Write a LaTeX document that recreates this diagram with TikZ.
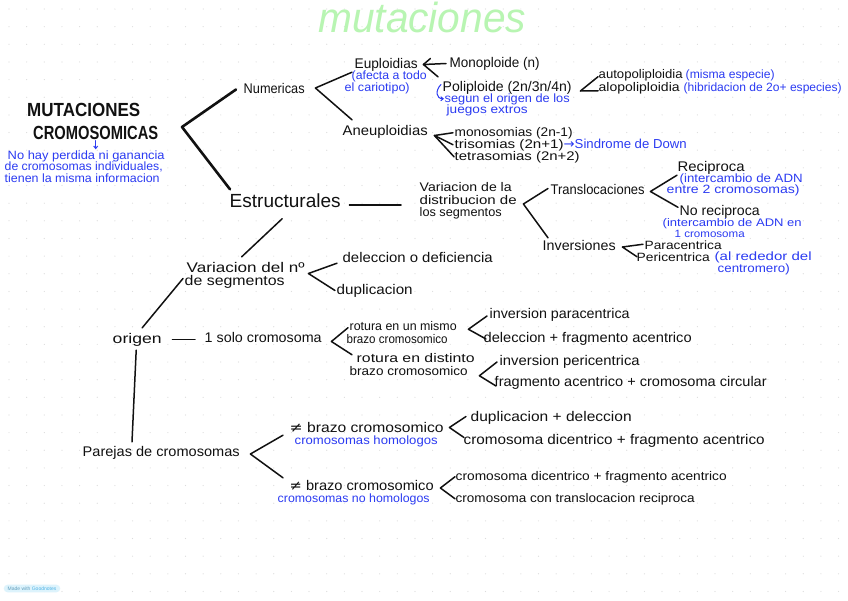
\documentclass[tikz,border=0pt]{standalone}
\usepackage{fontspec}
\setmainfont{Liberation Sans}
\newfontfamily\sym{DejaVu Sans}
\usepackage{graphicx}
\usetikzlibrary{calc,arrows.meta}
\definecolor{ink}{HTML}{111111}
\definecolor{pen}{HTML}{2B3BF2}
\definecolor{mint}{HTML}{B8F5B2}
\definecolor{dotc}{HTML}{DCDCDC}
\definecolor{badge}{HTML}{DDF3FC}
\definecolor{badgetxt}{HTML}{4FB3E6}
\newsavebox\fwbox
\newcommand\fw[2]{\sbox\fwbox{#2}\pgfmathsetmacro\fwr{#1/\wd\fwbox}\scalebox{\fwr}[1]{\usebox\fwbox}}
\begin{document}
\begin{tikzpicture}[x=1pt,y=-1pt,
 t/.style={anchor=base west,inner sep=0.5pt,font=\fontsize{14}{14}\selectfont,text=ink,text height=8pt,text depth=1pt},
 ts/.style={t,font=\fontsize{12.5}{12.5}\selectfont,text height=7pt,text depth=0.5pt},
 b/.style={anchor=base west,inner sep=0.5pt,font=\fontsize{12}{12}\selectfont,text=pen,text height=7pt,text depth=0.5pt},
 bigt/.style={t,font=\fontsize{19}{19}\selectfont,text height=13pt,text depth=4pt},
 ttl/.style={anchor=base west,inner sep=1pt,font=\fontsize{19}{19}\selectfont\bfseries,text=ink,text height=12.5pt,text depth=0.5pt},
 ln/.style={draw=ink,line width=1.5pt,line cap=round,line join=round},
 bln/.style={draw=pen,line width=1pt,line cap=round,line join=round,-{Straight Barb[length=2.5pt,width=4pt]}},
]
\useasboundingbox (0,0) rectangle (848,600);
\fill[white] (0,0) rectangle (848,600);
\foreach \i in {0,...,47}{\foreach \j in {0,...,33}{\fill[dotc] (9+\i*17.65,9+\j*17.65) circle[radius=0.6pt];}}

% title
\node[anchor=base west,inner sep=0pt,text=mint,font=\fontsize{42}{42}\selectfont\itshape] (mut) at (318,32) {\fw{208}{mutaciones}};

% main heading
\node[ttl] (mt1) at (26,116) {\fw{113}{MUTACIONES}};
\node[ttl] (mt2) at (32,139) {\fw{125}{CROMOSOMICAS}};
\node[b] (nh1) at (7,159) {\fw{157}{No hay perdida ni ganancia}};
\node[b] (nh2) at (4,170.5) {\fw{158}{de cromosomas individuales,}};
\node[b] (nh3) at (4,182) {\fw{155}{tienen la misma informacion}};
\draw[bln] (mt2.south) -- ($(mt2.south |- nh1.north)+(0,-2)$);

% numericas
\node[t] (num) at (243,93) {\fw{61}{Numericas}};
\node[t] (eup) at (354,68) {\fw{63}{Euploidias}};
\node[b] (afe1) at (351,79) {\fw{75}{(afecta a todo}};
\node[b] (afe2) at (344,91) {\fw{65}{el cariotipo)}};
\node[t] (aneu) at (342,135) {\fw{85}{Aneuploidias}};
\node[t] (mono) at (449,67) {\fw{90}{Monoploide (n)}};
\node[t] (poli) at (442,91) {\fw{129}{Poliploide (2n/3n/4n)}};
\node[b] (seg1) at (444,102) {\fw{125}{segun el origen de los}};
\node[b] (seg2) at (446,113) {\fw{81}{juegos extros}};
\node[ts] (auto) at (598,78) {\fw{84}{autopoliploidia}};
\node[b] (misma) at (685,78) {\fw{89}{(misma especie)}};
\node[ts] (alo) at (598,91) {\fw{81}{alopoliploidia}};
\node[b] (hibr) at (683,91) {\fw{158}{(hibridacion de 2o+ especies)}};
\node[ts] (monos) at (454,136) {\fw{118}{monosomias (2n-1)}};
\node[ts] (tris) at (454,148) {\fw{109}{trisomias (2n+1)}};
\node[b,font=\fontsize{13}{13}\selectfont] (down) at (563,148) {\fw{123}{{\sym →}Sindrome de Down}};
\node[ts] (tetra) at (454,160) {\fw{125}{tetrasomias (2n+2)}};

% estructurales
\node[bigt] (estr) at (229,207) {\fw{111}{Estructurales}};
\node[t,font=\fontsize{12.5}{12.5}\selectfont] (var1) at (419,191.5) {\fw{92}{Variacion de la}};
\node[t,font=\fontsize{12.5}{12.5}\selectfont] (var2) at (419,204) {\fw{97}{distribucion de}};
\node[t,font=\fontsize{12.5}{12.5}\selectfont] (var3) at (419,216.5) {\fw{82}{los segmentos}};
\node[t] (trans) at (550,194) {\fw{94}{Translocaciones}};
\node[t] (recip) at (677,171) {\fw{67}{Reciproca}};
\node[b] (int1a) at (679,182) {\fw{123}{(intercambio de ADN}};
\node[b] (int1b) at (666,193) {\fw{133}{entre 2 cromosomas)}};
\node[t] (norec) at (679,215.5) {\fw{80}{No reciproca}};
\node[b,font=\fontsize{11}{11}\selectfont] (int2a) at (662,226.5) {\fw{139}{(intercambio de ADN en}};
\node[b,font=\fontsize{10.5}{10.5}\selectfont] (int2b) at (674,237) {\fw{70}{1 cromosoma}};
\node[t] (inv) at (542,250) {\fw{73}{Inversiones}};
\node[ts,font=\fontsize{12}{12}\selectfont] (para) at (644,249) {\fw{77}{Paracentrica}};
\node[ts,font=\fontsize{12}{12}\selectfont] (peri) at (636,261.5) {\fw{73}{Pericentrica}};
\node[b] (alr1) at (714,260) {\fw{97}{(al rededor del}};
\node[b] (alr2) at (717,272.5) {\fw{72}{centromero)}};
\node[t] (vn1) at (186,272) {\fw{118}{Variacion del nº}};
\node[t] (vn2) at (184,285) {\fw{100}{de segmentos}};
\node[t] (delec) at (342,262) {\fw{150}{deleccion o deficiencia}};
\node[t] (dup) at (336,294) {\fw{76}{duplicacion}};

% origen
\node[t] (orig) at (112,343) {\fw{49}{origen}};
\node[t] (solo) at (204,342) {\fw{117}{1 solo cromosoma}};
\node[ts] (r1a) at (349,330) {\fw{107}{rotura en un mismo}};
\node[ts] (r1b) at (346,343) {\fw{101}{brazo cromosomico}};
\node[ts] (r2a) at (356,362) {\fw{118}{rotura en distinto}};
\node[ts] (r2b) at (349,375) {\fw{118}{brazo cromosomico}};
\node[t] (ipara) at (489,318) {\fw{140}{inversion paracentrica}};
\node[t] (dfrag) at (483,342) {\fw{208}{deleccion + fragmento acentrico}};
\node[t] (iperi) at (499,365) {\fw{140}{inversion pericentrica}};
\node[t] (fcirc) at (494,386) {\fw{272}{fragmento acentrico + cromosoma circular}};

% parejas
\node[t] (par) at (82,456) {\fw{157}{Parejas de cromosomas}};
\node[t] (ne1) at (289,432) {\fw{154}{{\sym ≠} brazo cromosomico}};
\node[b] (homo) at (294,444) {\fw{143}{cromosomas homologos}};
\node[t] (ne2) at (289,490) {\fw{144}{{\sym ≠} brazo cromosomico}};
\node[b] (nhomo) at (277,502) {\fw{152}{cromosomas no homologos}};
\node[t] (dd) at (470,421) {\fw{161}{duplicacion + deleccion}};
\node[t] (dc1) at (463,444) {\fw{301}{cromosoma dicentrico + fragmento acentrico}};
\node[ts] (dc2) at (455,480) {\fw{271}{cromosoma dicentrico + fragmento acentrico}};
\node[ts] (ctr) at (455,502) {\fw{239}{cromosoma con translocacion reciproca}};

% badge
\node[fill=badge,rounded corners=4pt,inner xsep=4pt,inner ysep=2pt,font=\fontsize{5}{5}\selectfont,text=badgetxt] (gn) at (32,588.5) {{\color{badgetxt!60!gray}Made with} Goodnotes};

% connectors
\coordinate (vBig) at (182,127);
\draw[ln,line width=2.6pt] ($(num.west)+(-7,0)$) -- (vBig) -- ($(estr.north west)+(1,-4)$);
\draw[ln] ($(eup.south west)+(-2,2.5)$) -- ($(num.east)+(10,-1.5)$) -- ($(aneu.north west)+(10,-6.5)$);
\draw[ln] ($(mono.west)+(-3,0)$) -- ($(eup.east)+(5,0)$) coordinate (tipE) -- ($(poli.north west)+(-4,-5.5)$);
\draw[ln] (tipE) -- +(7,-6);
\draw[ln] ($(auto.west)+(0,2)$) -- ($(poli.east)+(8,3.5)$) -- ($(alo.west)+(0,3)$);
\draw[bln] ($(poli.west)+(-1,-3)$) .. controls ($(poli.west)+(-7,3)$) and ($(seg1.west)+(-8,0)$) .. (seg1.west);
\coordinate (vAn) at ($(aneu.east)+(6,4)$);
\draw[ln] ($(monos.west)+(-1,0)$) -- (vAn) -- (tetra.west);
\draw[ln] ($(tris.west)+(-1,0)$) -- (vAn);
\draw[ln] ($(estr.east)+(8,2.5)$) -- ($(var2.west)+(-18,4.5)$);
\draw[ln] ($(trans.west)+(-2,-2)$) -- ($(var2.east)+(6,3.5)$) -- ($(inv.north west)+(6,-3.5)$);
\draw[ln] ($(recip.south west)+(0,2.5)$) -- ($(trans.east)+(5,1)$) -- ($(norec.north west)+(-1,0.5)$);
\draw[ln] ($(para.west)+(-1,-1.5)$) -- ($(inv.east)+(6,0.5)$) -- ($(peri.west)+(1,-1.5)$);
\draw[ln] ($(estr.south)+(-3,7)$) -- ($(vn1.north)+(-4,-6.5)$);
\draw[ln] ($(delec.south west)+(-5,-0.5)$) -- ($(vn1.east)+(3,5)$) -- ($(dup.west)+(-1,0)$);
\draw[ln] ($(vn2.west)+(-1,-3)$) -- ($(orig.north)+(5,-6.5)$);
\draw[ln] ($(orig.east)+(10,0)$) -- ($(solo.west)+(-9,1)$);
\draw[ln] ($(r1a.west)+(-1,1)$) -- ($(solo.east)+(9,3)$) -- ($(r2a.west)+(-4,-4)$);
\draw[ln] ($(ipara.west)+(-2,1.5)$) -- ($(r1a.east)+(11,2.5)$) -- ($(dfrag.west)+(3,0.5)$);
\draw[ln] ($(iperi.west)+(-2,0.5)$) -- ($(r2b.east)+(11,4)$) -- ($(fcirc.west)+(2,3.5)$);
\draw[ln] ($(orig.south)+(-1,5.5)$) -- ($(par.north west)+(50,-5.5)$);
\draw[ln] ($(ne1.south west)+(-6,1.5)$) -- ($(par.east)+(10,1.5)$) -- ($(ne2.north west)+(-6,-3.5)$);
\draw[ln] ($(dd.west)+(-4,-1)$) -- ($(ne1.east)+(5,-1)$) -- ($(dc1.west)+(1,-3)$);
\draw[ln] (dc2.west) -- ($(ne2.east)+(6,1.5)$) -- (ctr.west);
\end{tikzpicture}
\end{document}
